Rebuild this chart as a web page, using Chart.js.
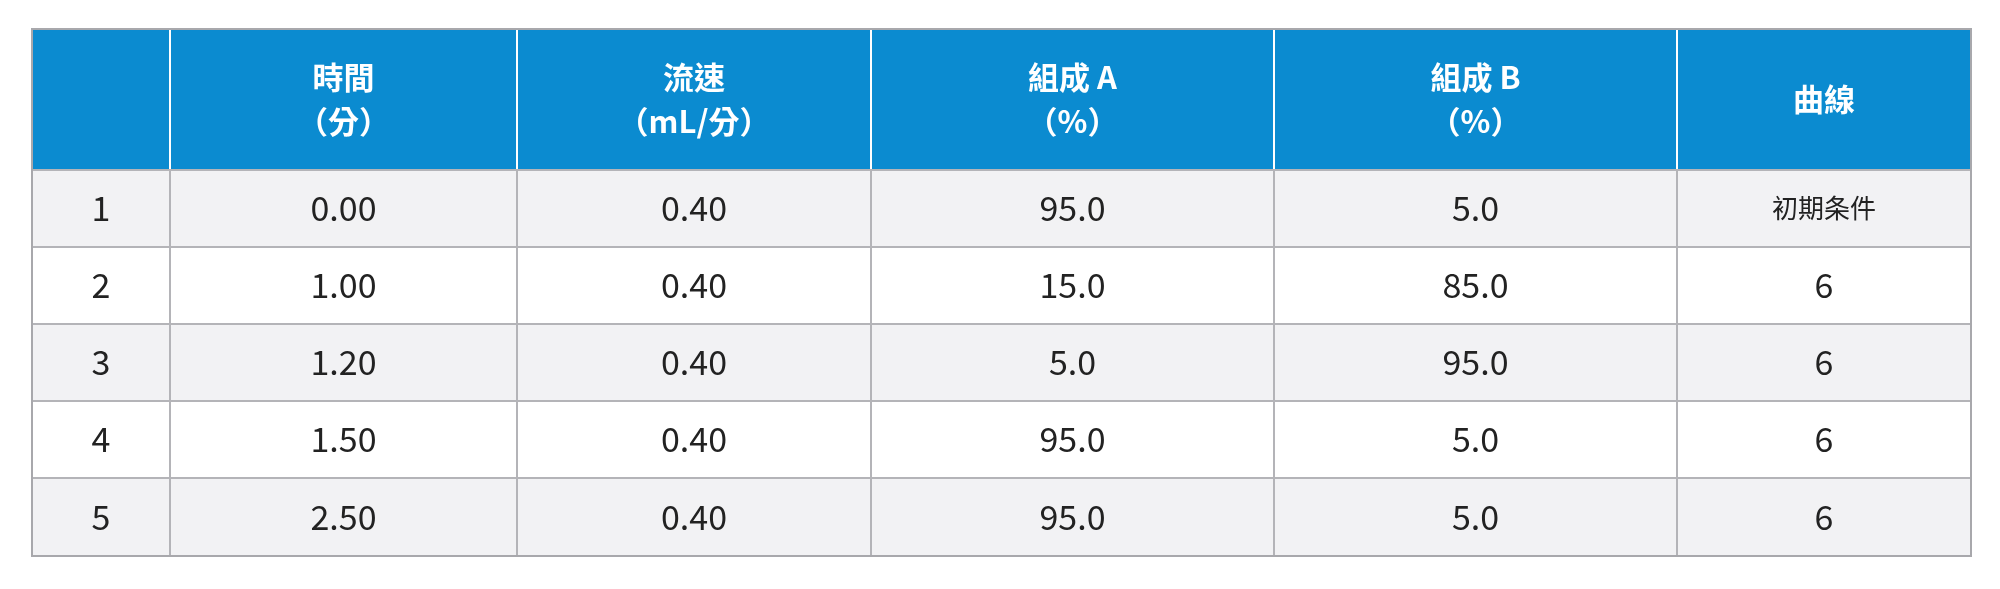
<!DOCTYPE html>
<html><head><meta charset="utf-8">
<script src="https://cdn.jsdelivr.net/npm/chart.js@4/dist/chart.umd.min.js"></script>
<style>html,body{margin:0;background:#fff}#wrap{width:2000px;height:589px}</style>
</head><body><div id="wrap"><canvas id="c"></canvas></div>
<script>
// 表格資料
const headers = [['',''],['時間','（分）'],['流速','（mL/分）'],['組成 A','（%）'],['組成 B','（%）'],['曲線','']];
const rowNo   = ['1','2','3','4','5'];
const times   = ['0.00','1.00','1.20','1.50','2.50'];
const flows   = ['0.40','0.40','0.40','0.40','0.40'];
const compA   = ['95.0','15.0','5.0','95.0','95.0'];
const compB   = ['5.0','85.0','95.0','5.0','5.0'];
const curves  = ['初期条件','6','6','6','6'];

const colEdges = [32,170,517,871,1274,1677,1971];   // x 軸單位
const rowEdges = [29,170,247,324,401,478,556];      // y 軸單位（上→下）
const cols = [rowNo,times,flows,compA,compB,curves];
const FONT = '"Noto Sans CJK TC","Noto Sans CJK JP",Inter,sans-serif';

const pts=[];
cols.forEach((c,ci)=>c.forEach((v,ri)=>pts.push({x:(colEdges[ci]+colEdges[ci+1])/2,y:(rowEdges[ri+1]+rowEdges[ri+2])/2,t:v})));

const tablePlugin={
  id:'table',
  beforeDatasetsDraw(chart){
    const {ctx,scales:{x,y}}=chart;
    const X=v=>x.getPixelForValue(v), Y=v=>y.getPixelForValue(v);
    ctx.save();
    // header
    ctx.fillStyle='#0b8bd0';
    ctx.fillRect(X(colEdges[0]),Y(rowEdges[0]),X(colEdges[6])-X(colEdges[0]),Y(rowEdges[1])-Y(rowEdges[0]));
    for(let r=0;r<5;r++){
      ctx.fillStyle=r%2===0?'#f2f2f4':'#ffffff';
      ctx.fillRect(X(colEdges[0]),Y(rowEdges[r+1]),X(colEdges[6])-X(colEdges[0]),Y(rowEdges[r+2])-Y(rowEdges[r+1]));
    }
    ctx.lineWidth=2;
    // header dividers
    ctx.strokeStyle='#ffffff';
    for(let i=1;i<6;i++){ctx.beginPath();ctx.moveTo(X(colEdges[i]),Y(rowEdges[0]));ctx.lineTo(X(colEdges[i]),Y(rowEdges[1]));ctx.stroke();}
    ctx.strokeStyle='#b4b4b8';
    for(let i=0;i<7;i++){ctx.beginPath();ctx.moveTo(X(colEdges[i]),Y(i===0||i===6?rowEdges[0]:rowEdges[1]));ctx.lineTo(X(colEdges[i]),Y(rowEdges[6]));ctx.stroke();}
    for(let r=1;r<7;r++){ctx.beginPath();ctx.moveTo(X(colEdges[0]),Y(rowEdges[r]));ctx.lineTo(X(colEdges[6]),Y(rowEdges[r]));ctx.stroke();}
    ctx.strokeStyle='#a8a8ac';
    ctx.strokeRect(X(colEdges[0]),Y(rowEdges[0]),X(colEdges[6])-X(colEdges[0]),Y(rowEdges[6])-Y(rowEdges[0]));
    // header text
    ctx.fillStyle='#fff';ctx.textAlign='center';ctx.textBaseline='middle';
    ctx.font='bold 31px '+FONT;
    headers.forEach((h,i)=>{
      const cx=X((colEdges[i]+colEdges[i+1])/2), cy=Y((rowEdges[0]+rowEdges[1])/2);
      if(h[1]){ctx.fillText(h[0],cx,cy-22);ctx.fillText(h[1],cx,cy+22);}
      else ctx.fillText(h[0],cx,cy);
    });
    // body text
    ctx.fillStyle='#222';
    pts.forEach(p=>{
      ctx.font=(p.t==='初期条件'?'26px ':'34px ')+FONT;
      ctx.fillText(p.t,X(p.x),Y(p.y));
    });
    ctx.restore();
  }
};

new Chart(document.getElementById('c'),{
  type:'scatter',
  data:{datasets:[{data:pts,pointRadius:0}]},
  options:{
    responsive:true,maintainAspectRatio:false,animation:false,
    layout:{padding:0},
    plugins:{legend:{display:false},tooltip:{enabled:false}},
    scales:{
      x:{type:'linear',min:0,max:2000,display:false},
      y:{type:'linear',min:0,max:589,reverse:true,display:false}
    }
  },
  plugins:[tablePlugin]
});
</script></body></html>
